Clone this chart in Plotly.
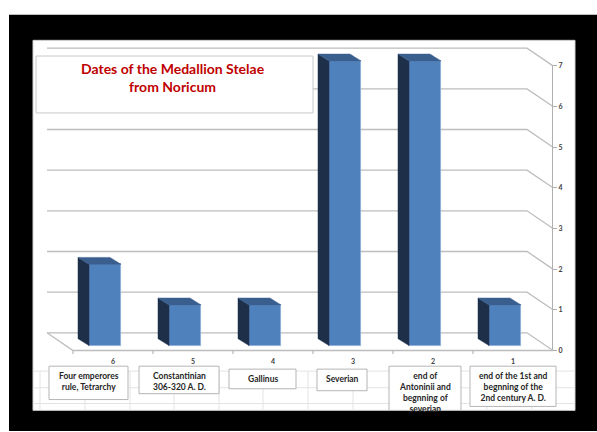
import plotly.graph_objects as go

# ---------------- data ----------------
tick_labels = ["6", "5", "4", "3", "2", "1"]
periods = [
    "Four emperores<br>rule, Tetrarchy",
    "Constantinian<br>306-320 A. D.",
    "Gallinus",
    "Severian",
    "end of<br>Antoninii and<br>begnning of<br>severian",
    "end of the 1st and<br>begnning of the<br>2nd century A. D.",
]
counts = [2, 1, 1, 7, 7, 1]
y_ticks = [0, 1, 2, 3, 4, 5, 6, 7]
title_text = "Dates of the Medallion Stelae<br>from Noricum"

# ---------------- geometry (pixel canvas) ----------------
W, H = 597, 432
CAT_PX = 80.0      # px per category
VAL_PX = 41.43     # px per unit
X0_PX = 113.0      # px of first category centre
Y0_PX = 352.0      # px of value 0 on the front plane

def px_x(px):
    return (px - X0_PX) / CAT_PX

def px_y(py):
    return (Y0_PX - py) / VAL_PX

def paper_x(px):
    return px / W

def paper_y(py):
    return 1 - py / H

# 3D depth of floor/back wall (in data units)
DX = -26 / CAT_PX
DY = 18 / VAL_PX
# bar placement within depth
BF_DX, BF_DY = -8 / CAT_PX, 5 / VAL_PX      # bar front face offset
BD_DX, BD_DY = -11 / CAT_PX, 7 / VAL_PX     # bar depth
BAR_W = 32 / CAT_PX

n = len(counts)
xs = list(range(n))

fig = go.Figure()

FRONT = "#4f81bd"
SIDE = "#1d2f49"
TOP = "#3a5f8f"

# side & top faces
for i, v in enumerate(counts):
    xl = i + BF_DX - BAR_W / 2
    xr = i + BF_DX + BAR_W / 2
    b = BF_DY
    side_x = [xl, xl, xl + BD_DX, xl + BD_DX, xl]
    side_y = [b, b + v, b + v + BD_DY, b + BD_DY, b]
    fig.add_trace(go.Scatter(x=side_x, y=side_y, fill="toself", fillcolor=SIDE,
                             mode="lines", line=dict(color=SIDE, width=0.5),
                             hoverinfo="skip", showlegend=False))
    top_x = [xl, xr, xr + BD_DX, xl + BD_DX, xl]
    top_y = [b + v, b + v, b + v + BD_DY, b + v + BD_DY, b + v]
    fig.add_trace(go.Scatter(x=top_x, y=top_y, fill="toself", fillcolor=TOP,
                             mode="lines", line=dict(color=TOP, width=0.5),
                             hoverinfo="skip", showlegend=False))

# front faces
fig.add_trace(go.Bar(x=[i + BF_DX for i in xs], y=counts, base=BF_DY, width=BAR_W,
                     marker=dict(color=FRONT, line=dict(color="#8fb0d8", width=0.8)),
                     hoverinfo="skip", showlegend=False))

# invisible trace so the right value axis subplot is drawn
fig.add_trace(go.Scatter(x=[0], y=[0], xaxis="x2", yaxis="y2", mode="markers",
                         marker=dict(opacity=0), hoverinfo="skip", showlegend=False))

shapes = []
# black outer frame
shapes.append(dict(type="rect", xref="paper", yref="paper", layer="below",
                   x0=paper_x(9), x1=paper_x(W + 2), y0=paper_y(H + 2), y1=paper_y(10),
                   fillcolor="black", line=dict(width=0)))
# white chart area
shapes.append(dict(type="rect", xref="paper", yref="paper", layer="below",
                   x0=paper_x(33), x1=paper_x(575), y0=paper_y(413), y1=paper_y(36),
                   fillcolor="white", line=dict(color="#d0d0d0", width=1)))

# faint spreadsheet cell lines at the bottom
CELL = "#e3e3e3"
for gx in [40, 85, 130, 174, 219, 263, 308, 353, 398, 442, 487, 532]:
    shapes.append(dict(type="line", xref="paper", yref="paper", layer="below",
                       x0=paper_x(gx), x1=paper_x(gx), y0=paper_y(412), y1=paper_y(373),
                       line=dict(color=CELL, width=1)))
for gy in [373, 390, 406]:
    shapes.append(dict(type="line", xref="paper", yref="paper", layer="below",
                       x0=paper_x(34), x1=paper_x(574), y0=paper_y(gy), y1=paper_y(gy),
                       line=dict(color=CELL, width=1)))

# back wall gridlines with diagonal to front axis
GRID = "#bdbdbd"
x_front_l = -0.5
x_front_r = n - 0.5
for k in y_ticks:
    shapes.append(dict(type="path", xref="x", yref="y", layer="below",
                       path=f"M {x_front_l + DX} {k + DY} L {x_front_r + DX} {k + DY} L {x_front_r} {k}",
                       line=dict(color=GRID, width=1.3)))
# floor: left diagonal and front edge
shapes.append(dict(type="path", xref="x", yref="y", layer="below",
                   path=f"M {x_front_l + DX} {DY} L {x_front_l} 0 L {x_front_r} 0",
                   line=dict(color=GRID, width=1.3)))
# category tick marks on floor front edge
for i in range(n):
    xb = i - 0.5
    shapes.append(dict(type="line", xref="x", yref="y", layer="below",
                       x0=xb, x1=xb, y0=0, y1=px_y(Y0_PX + 3.5),
                       line=dict(color=GRID, width=1.3)))

# title box (data refs so it sits above the gridlines)
shapes.append(dict(type="rect", xref="x", yref="y", layer="below",
                   x0=px_x(36), x1=px_x(313), y0=px_y(110), y1=px_y(52),
                   fillcolor="white", line=dict(color="#c8c8c8", width=1)))

# category text boxes (pixel boxes)
boxes = [
    (49, 128, 368, 402),
    (139, 219, 368, 396),
    (229, 296, 371, 391),
    (317, 367, 371, 393),
    (389, 461, 368, 413),
    (470, 556, 368, 409),
]
annotations = []
for (bx0, bx1, by0, by1), txt in zip(boxes, periods):
    if by1 >= 413:
        shapes.append(dict(type="path", xref="paper", yref="paper", layer="below",
                           path=(f"M {paper_x(bx0)} {paper_y(413)} L {paper_x(bx0)} {paper_y(by0)} "
                                 f"L {paper_x(bx1)} {paper_y(by0)} L {paper_x(bx1)} {paper_y(413)} Z"),
                           fillcolor="white", line=dict(color="#b5b5b5", width=1)))
    else:
        shapes.append(dict(type="rect", xref="paper", yref="paper", layer="below",
                           x0=paper_x(bx0), x1=paper_x(bx1), y0=paper_y(by1), y1=paper_y(by0),
                           fillcolor="white", line=dict(color="#b5b5b5", width=1)))
    annotations.append(dict(xref="paper", yref="paper", x=paper_x((bx0 + bx1) / 2),
                            y=paper_y(by0 + 2.5), xanchor="center", yanchor="top",
                            text=f"<b>{txt}</b>", showarrow=False, align="center",
                            font=dict(family="Lato, Open Sans, sans-serif", size=8.5, color="#262626")))

# category number labels under the floor
for i, t in enumerate(tick_labels):
    annotations.append(dict(xref="x", yref="y", x=i, y=px_y(363), text=f"<b>{t}</b>",
                            showarrow=False, xanchor="center", yanchor="middle",
                            font=dict(family="Lato, Open Sans, sans-serif", size=7, color="#404040")))

# title
annotations.append(dict(xref="paper", yref="paper", x=paper_x(173), y=paper_y(73.5),
                        text=f"<b>{title_text}</b>", showarrow=False, xanchor="center",
                        yanchor="middle", align="center",
                        font=dict(family="Lato, Open Sans, sans-serif", size=14, color="#c00000")))

fig.update_layout(
    width=W, height=H,
    margin=dict(l=0, r=0, t=0, b=0),
    paper_bgcolor="white", plot_bgcolor="rgba(0,0,0,0)",
    shapes=shapes, annotations=annotations,
    bargap=0,
    xaxis=dict(domain=[0, 1], range=[px_x(0), px_x(W)], visible=False, fixedrange=True),
    yaxis=dict(domain=[0, 1], range=[px_y(H), px_y(0)], visible=False, fixedrange=True),
    xaxis2=dict(domain=[0, paper_x(552)], range=[0, 1], visible=False, anchor="y2"),
    yaxis2=dict(domain=[paper_y(Y0_PX), paper_y(62)], range=[0, 7], anchor="x2", side="right",
                showline=True, linecolor="#b0b0b0", linewidth=1.3, showgrid=False, zeroline=False,
                ticks="outside", ticklen=4, tickcolor="#b0b0b0", tickvals=y_ticks,
                ticktext=[f"<b>{t}</b>" for t in y_ticks],
                tickfont=dict(family="Lato, Open Sans, sans-serif", size=7, color="#404040")),
)

fig.write_html("out.html")
